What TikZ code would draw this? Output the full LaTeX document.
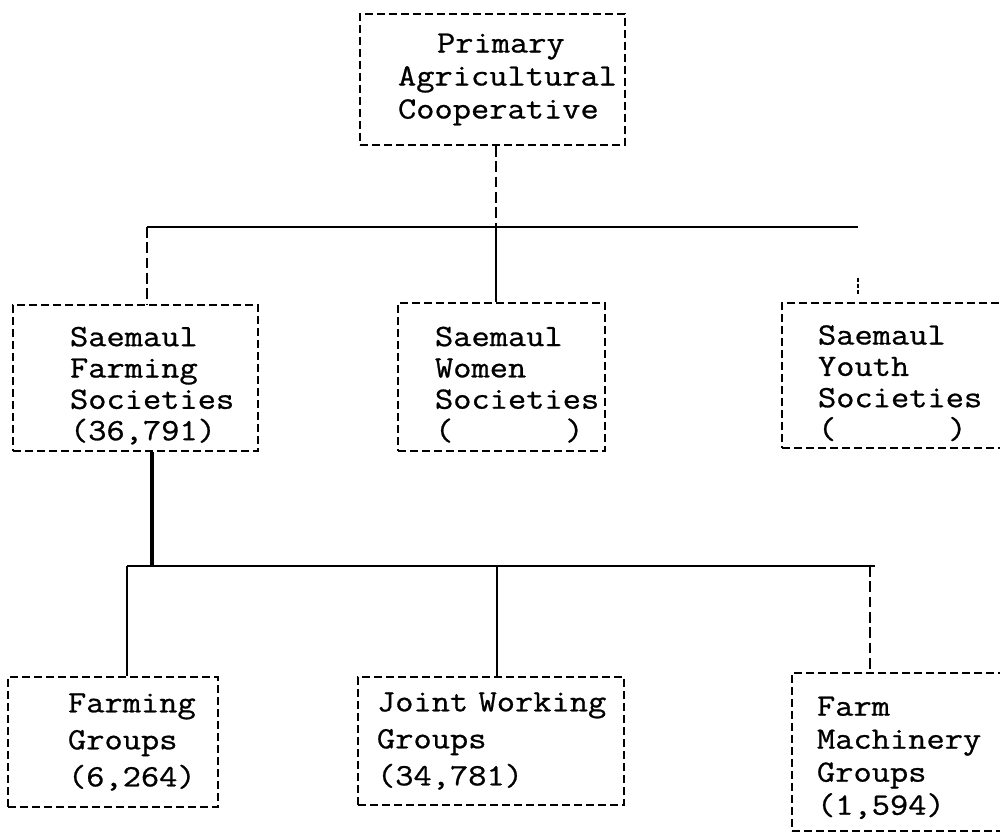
\documentclass[tikz,border=0pt]{standalone}
\usepackage{fontspec}
\setmonofont{Latin Modern Mono}[FakeStretch=1.143, FakeBold=0.8]
\begin{document}
\def\u{0.75pt}
\begin{tikzpicture}[x=0.75pt,y=-0.75pt,
  orgbox/.style={draw, line width=1.4pt, dash pattern=on 6pt off 3pt,
    rectangle, inner sep=0pt, align=left,
    font=\ttfamily\fontsize{23.25}{24.75}\selectfont},
  solidline/.style={line width=1.6pt},
  heavyline/.style={line width=2.4pt},
  brokenline/.style={line width=1.4pt, dash pattern=on 8pt off 3.5pt},
]
\useasboundingbox (0,0) rectangle (1000,834);
\clip (0,0) rectangle (1000,834);

% --- boxes ---
\node[orgbox, minimum width=265*\u, minimum height=131*\u, text width=189*\u]
  (pac) at (492.5,79.5) {\hspace*{29.25pt}Primary\\Agricultural\\Cooperative};

\node[orgbox, minimum width=245*\u, minimum height=146*\u, text width=131*\u,
  font=\ttfamily\fontsize{23.25}{23.5}\selectfont]
  (sfs) at (135.5,378) {\rule{0pt}{26pt}Saemaul\\Farming\\Societies\\(36,791)};
\node[orgbox, minimum width=207*\u, minimum height=148*\u, text width=133*\u,
  font=\ttfamily\fontsize{23.25}{23.5}\selectfont]
  (sws) at (501.5,377) {\rule{0pt}{26pt}Saemaul\\Women\\Societies\\(\hspace*{84pt})};
\node[orgbox, minimum width=240*\u, minimum height=145*\u, text width=168*\u,
  font=\ttfamily\fontsize{23.25}{23.5}\selectfont]
  (sys) at (902,375.5) {\rule{0pt}{26pt}Saemaul\\Youth\\Societies\\(\hspace*{84pt})};

\node[orgbox, minimum width=210*\u, minimum height=130*\u, text width=90*\u,
  font=\ttfamily\fontsize{23.25}{27.75}\selectfont]
  (fg) at (113,742) {Farming\\Groups\\(6,264)};
\node[orgbox, minimum width=266*\u, minimum height=128*\u, text width=228*\u,
  font=\ttfamily\fontsize{23.25}{27.75}\selectfont]
  (jwg) at (491,741) {\mbox{Joint Working}\\Groups\\(34,781)};
\node[orgbox, minimum width=238*\u, minimum height=158*\u, text width=188*\u]
  (fmg) at (911,752) {\rule{0pt}{23pt}Farm\\Machinery\\Groups\\(1,594)};

% --- junction points ---
\coordinate (j1) at (496,227);
\coordinate (hl) at (147,227);
\coordinate (hr) at (858,227);
\coordinate (j2) at (152,566);
\coordinate (ll) at (127,566);
\coordinate (lm) at (497,566);
\coordinate (lr) at (870,566);
\coordinate (lend) at (875,566);

% --- upper level connectors ---
\draw[brokenline] (j1 |- pac.south) -- (j1);
\draw[solidline] (hl) -- (hr);
\draw[brokenline] (hl) -- (hl |- sfs.north);
\draw[solidline] (j1) -- (j1 |- sws.north);
\draw[line width=1.2pt, dash pattern=on 0pt off 38pt on 3pt off 1.5pt on 3pt off 1.5pt on 3pt off 40pt]
  (hr) -- (hr |- sys.north);

% --- lower level connectors ---
\draw[heavyline] (j2 |- sfs.south) -- (j2);
\draw[solidline] (ll) -- (lend);
\draw[solidline] (ll) -- (ll |- fg.north);
\draw[solidline] (lm) -- (lm |- jwg.north);
\draw[brokenline] (lr) -- (lr |- fmg.north);
\end{tikzpicture}
\end{document}
